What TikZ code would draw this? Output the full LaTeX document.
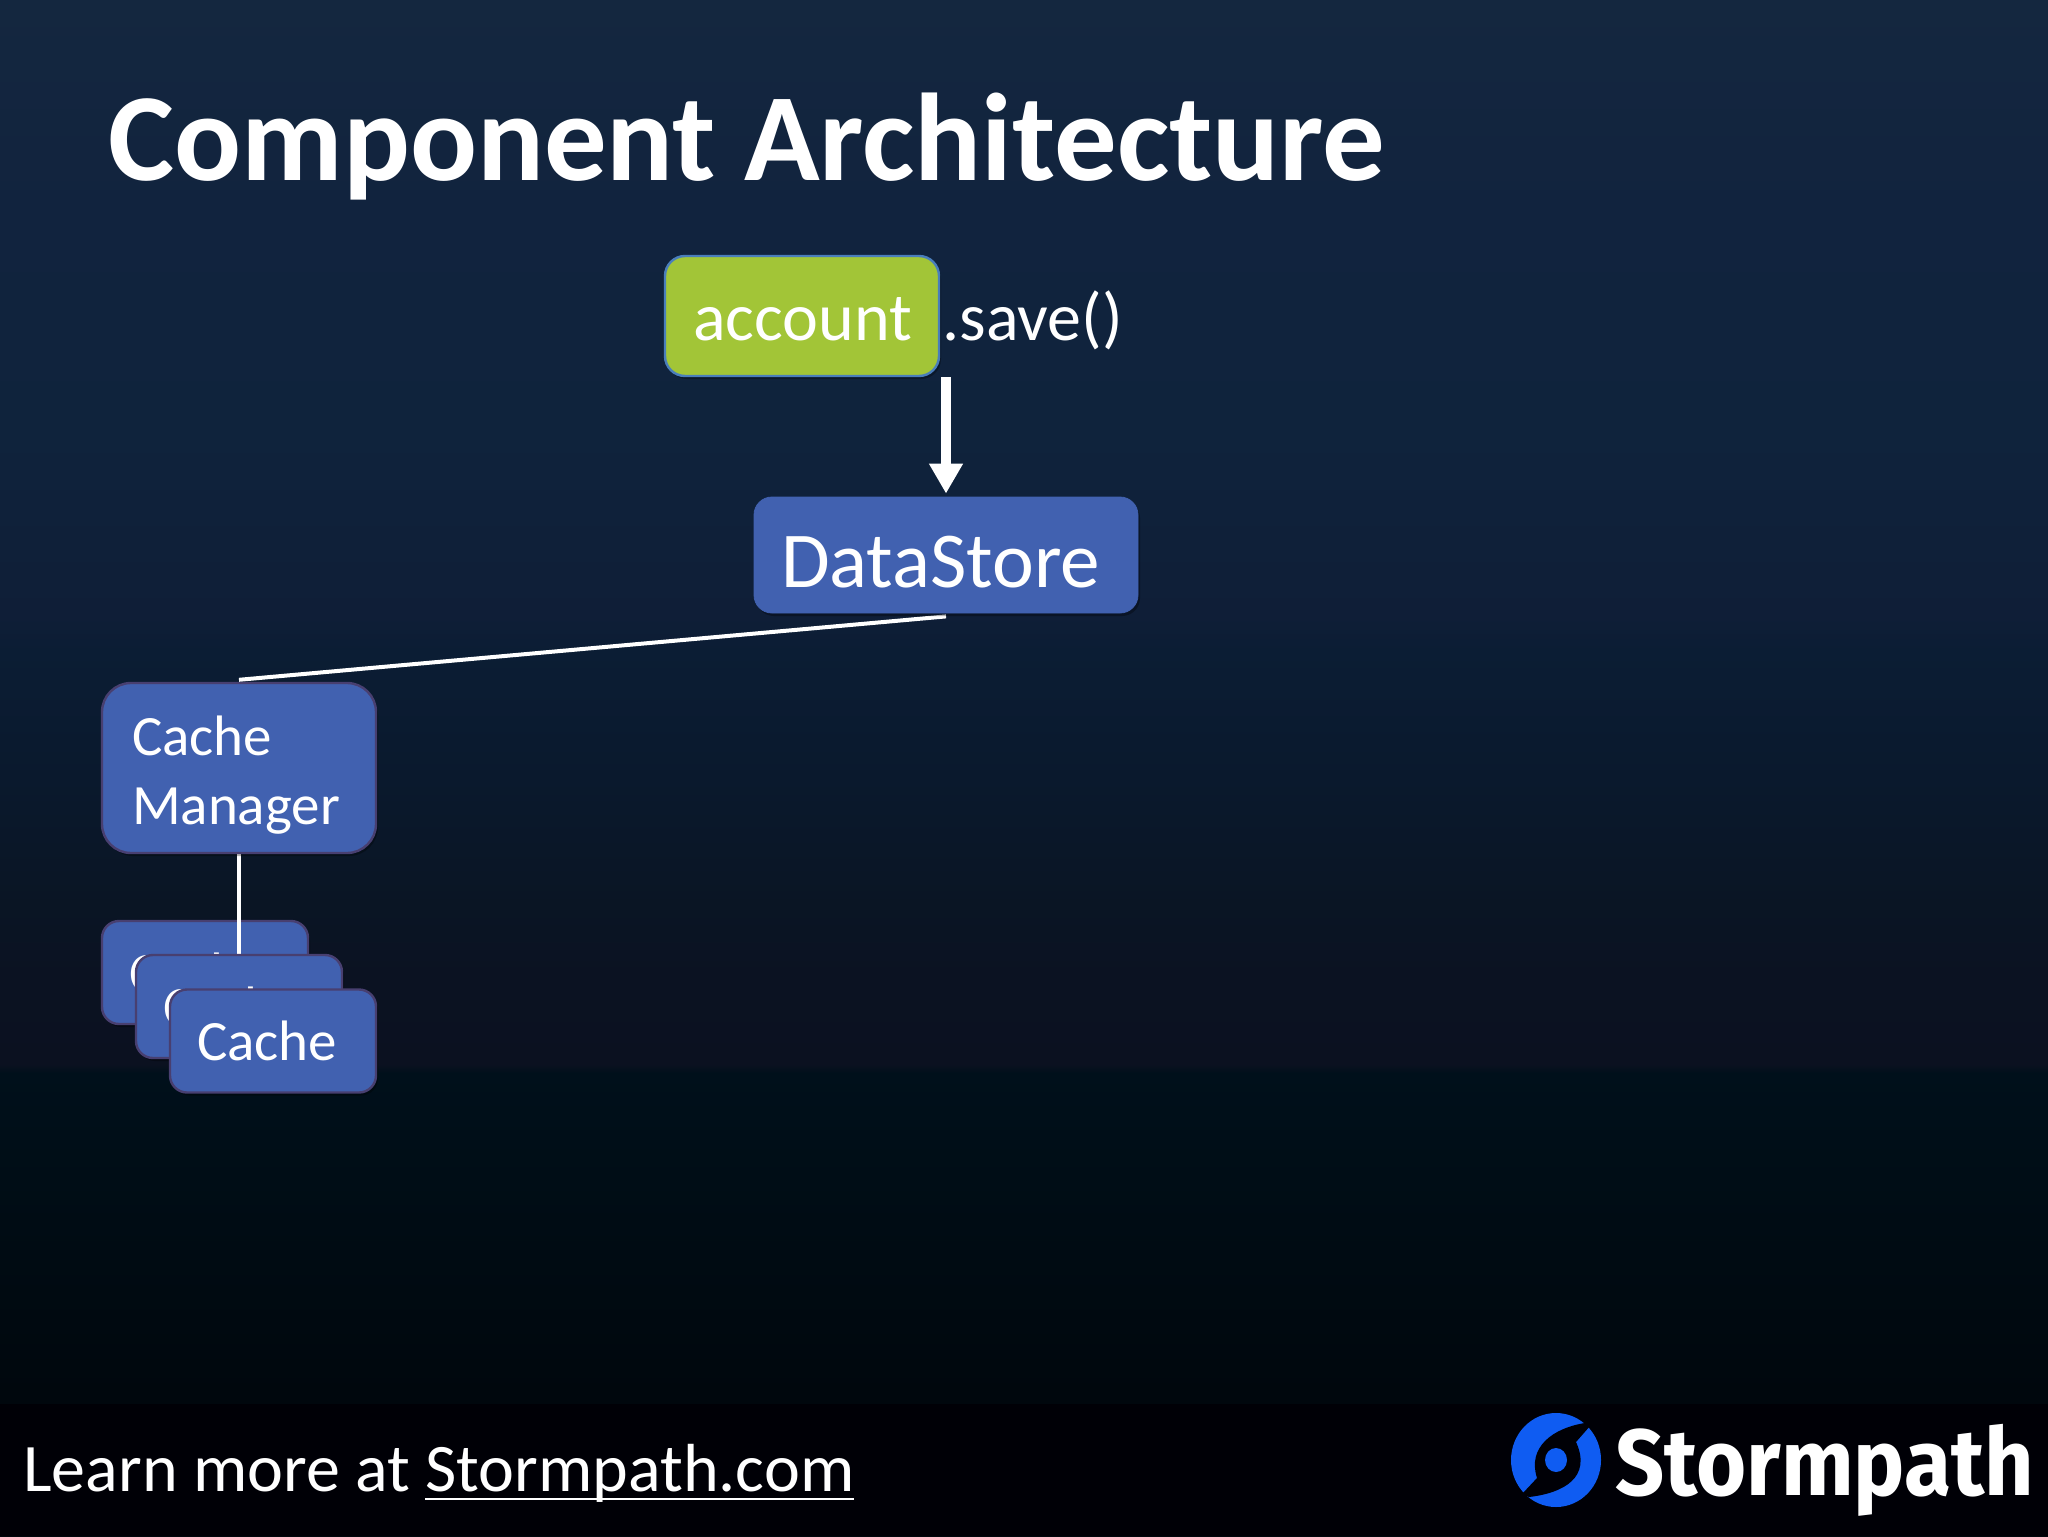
\documentclass[tikz,border=0pt]{standalone}
\usepackage{fontspec}
\setmainfont{Carlito}
\newfontfamily\logofont{Fira Sans}
\usetikzlibrary{arrows.meta,shadows}
\pgfdeclarelayer{boxback}
\pgfdeclarelayer{conn}
\pgfsetlayers{boxback,conn,main}
\definecolor{bluefill}{HTML}{4161B0}
\definecolor{purpleedge}{HTML}{483F70}
\definecolor{greenfill}{HTML}{A2C537}
\definecolor{greenedge}{HTML}{4A7EBB}
\definecolor{logoblue}{HTML}{0F5CF2}
\definecolor{footerblack}{HTML}{000006}
\definecolor{bgA}{HTML}{14273F}
\definecolor{bgB}{HTML}{11233E}
\definecolor{bgC}{HTML}{0F233C}
\definecolor{bgD}{HTML}{0F1E37}
\definecolor{bgE}{HTML}{0B1D34}
\definecolor{bgF}{HTML}{0A192D}
\definecolor{bgG}{HTML}{0A1524}
\definecolor{bgH}{HTML}{0B1222}
\definecolor{bgI}{HTML}{0B1120}
\definecolor{bgJ}{HTML}{00101B}
\definecolor{bgK}{HTML}{000C14}
\definecolor{bgL}{HTML}{00070D}
\pgfdeclareverticalshading{slidebgb}{100bp}{
 color(0bp)=(bgL);
 color(29.59bp)=(bgL);
 color(35.19bp)=(bgK);
 color(40.07bp)=(bgJ);
 color(40.36bp)=(bgI);
 color(43.16bp)=(bgH);
 color(45.51bp)=(bgG);
 color(49.64bp)=(bgF);
 color(53.78bp)=(bgE);
 color(54.95bp)=(bgD);
 color(60.84bp)=(bgC);
 color(67.94bp)=(bgB);
 color(75bp)=(bgA);
 color(100bp)=(bgA)}
\newcommand\lowered[2]{\raisebox{-#1}[\height][\depth]{#2}}
\newcommand\ulined[1]{\leavevmode\setbox0\hbox{#1}\rlap{\rule[-4.5pt]{\wd0}{1.2pt}}\box0}
\tikzset{
 x=0.5pt,y=-0.5pt,
 boxbase/.style={rectangle,text=white,align=left,inner ysep=0pt,
   drop shadow={shadow xshift=1pt,shadow yshift=-1.5pt,opacity=.3,fill=black}},
 bluebox/.style={boxbase,fill=bluefill,draw=purpleedge,line width=1.2pt},
 cachebox/.style={bluebox,rounded corners=8.5pt,minimum height=51.5pt,inner xsep=13.5pt,text width=76pt,font=\fontsize{28.5}{33}\selectfont},
 flow/.style={white,line width=5pt,-{Triangle[length=15pt,width=16pt]}},
 link/.style={white,line width=2pt},
}
\begin{document}
\begin{tikzpicture}
\useasboundingbox (0,0) rectangle (2048,1536);
\begin{pgfonlayer}{boxback}
\shade[shading=slidebgb] (0,0) rectangle (2048,1536);
\fill[footerblack] (0,1404) rectangle (2048,1536);
\node[cachebox] (cacheA) at (205,972.5) {Cache};
\end{pgfonlayer}
\node[cachebox] (cacheB) at (239,1006.5) {Cache};
\node[cachebox] (cacheC) at (273,1041) {Cache};
\node[bluebox,rounded corners=14.5pt,minimum height=85pt,inner xsep=15pt,text width=107pt,
  font=\fontsize{28.5}{34.5}\selectfont] (manager) at (239,768) {\lowered{3.7pt}{Cache}\\\lowered{3.7pt}{Manager}};
\node[boxbase,fill=bluefill,rounded corners=9pt,minimum height=58pt,inner xsep=13.5pt,text width=165pt,
  font=\fontsize{39.6}{44}\selectfont,draw=bluefill] (datastore) at (946,555) {\lowered{3.3pt}{DataStore}};
\node[boxbase,fill=greenfill,draw=greenedge,line width=1.2pt,rounded corners=10pt,minimum height=60pt,inner xsep=14pt,text width=109pt,
  font=\fontsize{34}{40}\selectfont] (account) at (802,316) {\lowered{1.5pt}{account}};
\node[text=white,anchor=base west,inner sep=0pt,font=\fontsize{34}{40}\selectfont] (save) at (942,340) {.save()};
\node[text=white,anchor=base west,inner sep=0pt,font=\bfseries\fontsize{62.4}{72}\selectfont] (title) at (108,180) {Component Architecture};
\node[text=white,anchor=base west,inner sep=0pt,font=\fontsize{34}{40}\selectfont] (footer) at (23,1491) {Learn more at \ulined{Stormpath.com}};
\begin{pgfonlayer}{conn}
\draw[flow] (datastore.north |- account.south) -- ([yshift=1.5pt]datastore.north);
\draw[link] ([yshift=-1.5pt]datastore.south) -- ([yshift=1pt]manager.north);
\draw[link,line width=2.3pt] (manager.south) -- (cacheB.north);
\end{pgfonlayer}
% logo
\fill[logoblue] (1556,1460) ellipse [x radius=45,y radius=47];
\fill[footerblack] (1585,1423) .. controls (1553,1428) and (1527,1447) .. (1537,1478)
  -- (1522,1494) -- (1529,1497)
  .. controls (1564,1493) and (1592,1477) .. (1576,1442)
  -- (1590,1426) -- cycle;
\fill[logoblue] (1556,1460) ellipse [x radius=11,y radius=12];
\node[text=white,anchor=base west,inner sep=0pt,font=\logofont\bfseries\fontsize{47}{60}\selectfont] (brand) at (1615,1495) {\scalebox{.915}[1]{Stormpath}};
\end{tikzpicture}
\end{document}
